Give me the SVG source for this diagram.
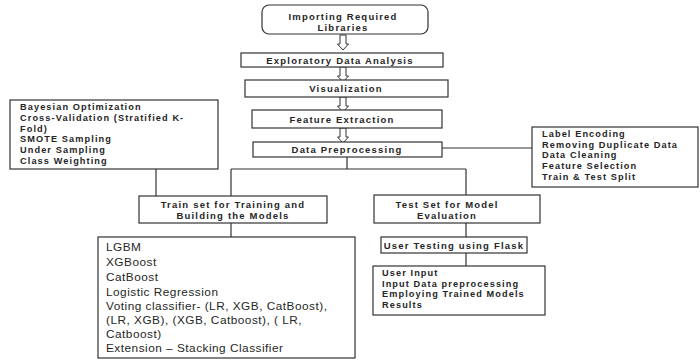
<svg xmlns="http://www.w3.org/2000/svg" width="700" height="360" viewBox="0 0 700 360">
<style>
.box{fill:#fff;stroke:#333;stroke-width:1.2}
.ln{fill:none;stroke:#333;stroke-width:1.2}
.arr{fill:#fff;stroke:#333;stroke-width:1}
text{font-family:"Liberation Sans",Arial,sans-serif;fill:#262626}
.c{text-anchor:middle;font-size:9.5px;font-weight:bold;letter-spacing:1.2px}
.l{font-size:9.2px;font-weight:bold;letter-spacing:1.1px}
.m{font-size:11.8px;letter-spacing:0.5px}
</style>
<defs>
<path id="ha" d="M-3,0 H3 V9 H5.5 L0,15 L-5.5,9 H-3 Z"/>
<clipPath id="edaclip"><rect x="241" y="53" width="202" height="14"/></clipPath>
</defs>
<rect width="700" height="360" fill="#fff"/>
<g id="connectors">
<use href="#ha" class="arr" x="343" y="35"/>
<use href="#ha" class="arr" x="343" y="67"/>
<use href="#ha" class="arr" x="343" y="97"/>
<use href="#ha" class="arr" x="343" y="128"/>
<path class="ln" d="M442,148 H532"/>
<path class="ln" d="M347,157 V169 M231,169 H466 M231,169 V196 M466,169 V195"/>
<path class="ln" d="M156,169 V196"/>
<path class="ln" d="M231,223 V237"/>
<path class="ln" d="M466,223 V237 M466,253 V266"/>
</g>
<g id="n-import">
<rect class="box" x="262" y="5" width="166" height="29" rx="7"/>
<text class="c" x="343" y="20">Importing Required</text>
<text class="c" x="343" y="31">Libraries</text>
</g>
<g id="n-eda">
<rect class="box" x="241" y="53" width="202" height="14"/>
<text class="c" x="340" y="64" clip-path="url(#edaclip)">Exploratory Data Analysis</text>
</g>
<g id="n-vis">
<rect class="box" x="245" y="80" width="203" height="17"/>
<text class="c" x="346" y="92">Visualization</text>
</g>
<g id="n-fe">
<rect class="box" x="252" y="110" width="190" height="18"/>
<text class="c" x="342" y="123">Feature Extraction</text>
</g>
<g id="n-dp">
<rect class="box" x="253" y="142" width="189" height="15"/>
<text class="c" x="347" y="153">Data Preprocessing</text>
</g>
<g id="n-prep-steps">
<rect class="box" x="532" y="127" width="166" height="60"/>
<text class="l" x="542" y="137">Label Encoding</text>
<text class="l" x="542" y="147.7">Removing Duplicate Data</text>
<text class="l" x="542" y="158.4">Data Cleaning</text>
<text class="l" x="542" y="169.1">Feature Selection</text>
<text class="l" x="542" y="179.8">Train &amp; Test Split</text>
</g>
<g id="n-tuning">
<rect class="box" x="10" y="100" width="208" height="69"/>
<text class="l" x="20" y="110">Bayesian Optimization</text>
<text class="l" x="20" y="120.8">Cross-Validation (Stratified K-</text>
<text class="l" x="20" y="131.6">Fold)</text>
<text class="l" x="20" y="142.4">SMOTE Sampling</text>
<text class="l" x="20" y="153.2">Under Sampling</text>
<text class="l" x="20" y="164">Class Weighting</text>
</g>
<g id="n-train">
<rect class="box" x="139" y="196" width="188" height="27"/>
<text class="c" x="233" y="208">Train set for Training and</text>
<text class="c" x="233" y="219">Building the Models</text>
</g>
<g id="n-test">
<rect class="box" x="374" y="195" width="166" height="28"/>
<text class="c" x="447" y="208">Test Set for Model</text>
<text class="c" x="447" y="219">Evaluation</text>
</g>
<g id="n-flask">
<rect class="box" x="381" y="237" width="146" height="16"/>
<text class="c" x="454" y="248.5">User Testing using Flask</text>
</g>
<g id="n-user">
<rect class="box" x="373" y="266" width="172" height="49"/>
<text class="l" x="382" y="276">User Input</text>
<text class="l" x="382" y="286.7">Input Data preprocessing</text>
<text class="l" x="382" y="297.4">Employing Trained Models</text>
<text class="l" x="382" y="308.1">Results</text>
</g>
<g id="n-models">
<rect class="box" x="98" y="237" width="257" height="121"/>
<text class="m" x="106" y="251">LGBM</text>
<text class="m" x="106" y="266">XGBoost</text>
<text class="m" x="106" y="281">CatBoost</text>
<text class="m" x="106" y="296">Logistic Regression</text>
<text class="m" x="106" y="310">Voting classifier- (LR, XGB, CatBoost),</text>
<text class="m" x="106" y="324">(LR, XGB), (XGB, Catboost), ( LR,</text>
<text class="m" x="106" y="338">Catboost)</text>
<text class="m" x="106" y="352">Extension – Stacking Classifier</text>
</g>
</svg>
